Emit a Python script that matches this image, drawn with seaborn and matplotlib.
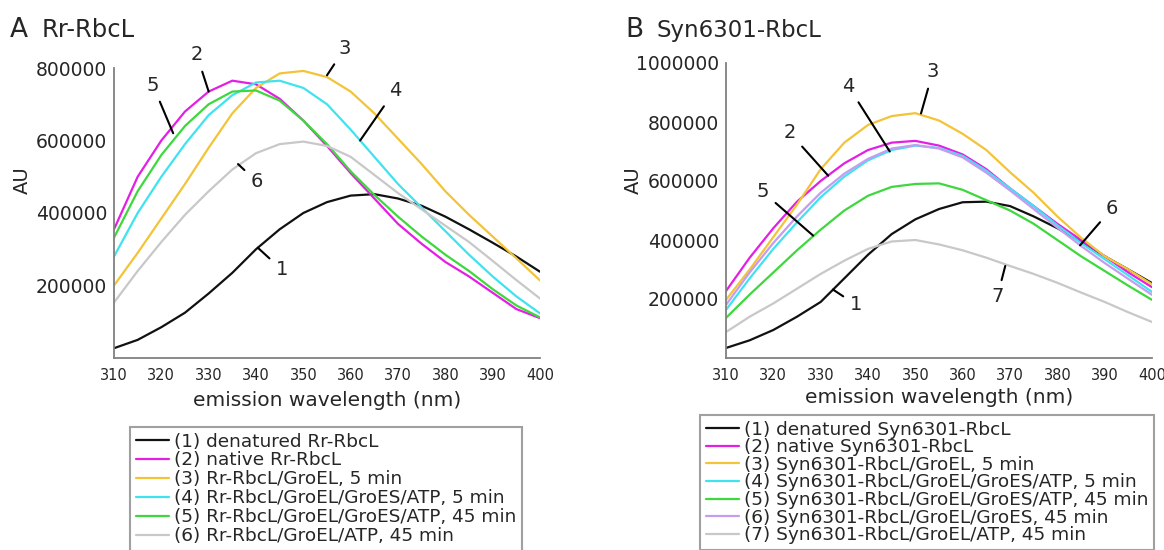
"""
    Tryptophan fluorescence emission spectra of RbcL refolding (two panels).
"""

import matplotlib.pyplot as plt
import pandas as pd
import seaborn as sns

#wavelengths read every 5 nm
wavelength = [310, 315, 320, 325, 330, 335, 340, 345, 350, 355,
              360, 365, 370, 375, 380, 385, 390, 395, 400]

#panel A, Rr-RbcL
a_denat = [27000, 50000, 85000, 125000, 178000, 235000, 300000, 355000, 400000, 430000,
           448000, 452000, 440000, 420000, 390000, 355000, 318000, 280000, 238000]
a_native = [355000, 500000, 600000, 680000, 735000, 765000, 755000, 715000, 655000, 585000,
            510000, 440000, 370000, 315000, 265000, 225000, 180000, 135000, 110000]
a_groel5 = [200000, 290000, 385000, 480000, 580000, 675000, 745000, 785000, 792000, 775000,
            735000, 675000, 605000, 535000, 460000, 395000, 335000, 275000, 214000]
a_groes5 = [280000, 400000, 500000, 590000, 670000, 725000, 760000, 765000, 745000, 700000,
            630000, 555000, 480000, 415000, 350000, 285000, 225000, 170000, 123000]
a_groes45 = [332000, 460000, 560000, 640000, 700000, 735000, 738000, 710000, 655000, 590000,
             515000, 450000, 390000, 335000, 285000, 240000, 190000, 145000, 112000]
a_atp45 = [153000, 240000, 320000, 395000, 460000, 520000, 565000, 590000, 597000, 585000,
           555000, 505000, 455000, 410000, 365000, 320000, 268000, 215000, 164000]

#panel B, Syn6301-RbcL
b_denat = [34000, 60000, 95000, 140000, 190000, 270000, 350000, 420000, 470000, 505000,
           528000, 530000, 515000, 480000, 440000, 395000, 345000, 300000, 254000]
b_native = [227000, 340000, 440000, 530000, 600000, 660000, 705000, 730000, 736000, 720000,
            690000, 640000, 575000, 515000, 455000, 400000, 345000, 290000, 240000]
b_groel5 = [197000, 300000, 410000, 520000, 640000, 730000, 790000, 820000, 830000, 805000,
            760000, 705000, 630000, 560000, 480000, 408000, 345000, 300000, 250000]
b_groes5 = [163000, 270000, 370000, 460000, 545000, 615000, 670000, 705000, 720000, 712000,
            685000, 635000, 575000, 515000, 450000, 390000, 335000, 280000, 224000]
b_groes45atp = [136000, 215000, 290000, 365000, 435000, 500000, 550000, 580000, 590000, 592000,
                570000, 535000, 500000, 455000, 400000, 345000, 295000, 245000, 197000]
b_groes45 = [180000, 290000, 390000, 480000, 560000, 625000, 675000, 710000, 722000, 710000,
             680000, 628000, 568000, 505000, 442000, 380000, 322000, 268000, 214000]
b_atp45 = [88000, 140000, 185000, 235000, 285000, 330000, 370000, 395000, 400000, 385000,
           365000, 340000, 312000, 285000, 255000, 222000, 190000, 155000, 122000]

labels_a = ['(1) denatured Rr-RbcL', '(2) native Rr-RbcL', '(3) Rr-RbcL/GroEL, 5 min',
            '(4) Rr-RbcL/GroEL/GroES/ATP, 5 min', '(5) Rr-RbcL/GroEL/GroES/ATP, 45 min',
            '(6) Rr-RbcL/GroEL/ATP, 45 min']
labels_b = ['(1) denatured Syn6301-RbcL', '(2) native Syn6301-RbcL',
            '(3) Syn6301-RbcL/GroEL, 5 min', '(4) Syn6301-RbcL/GroEL/GroES/ATP, 5 min',
            '(5) Syn6301-RbcL/GroEL/GroES/ATP, 45 min', '(6) Syn6301-RbcL/GroEL/GroES, 45 min',
            '(7) Syn6301-RbcL/GroEL/ATP, 45 min']

colors_a = ['#111111', '#e41fe4', '#f3c338', '#3fe3ef', '#3ed83e', '#c8c8c8']
colors_b = ['#111111', '#e41fe4', '#f3c338', '#3fe3ef', '#3ed83e', '#c49cf0', '#c8c8c8']

#number labels: (text, curve point x, curve point y, text x, text y)
notes_a = [('1', 340.4, 304000, 345.5, 243000), ('2', 330, 735000, 327.5, 836000),
           ('3', 355, 780000, 358.8, 855000), ('4', 362, 600000, 369.4, 739000),
           ('5', 322.5, 620000, 318.2, 753000), ('6', 336.2, 535000, 340.2, 486000)]
notes_b = [('1', 332.6, 232000, 337.5, 180000), ('2', 331.6, 618000, 323.5, 763000),
           ('3', 351.2, 829000, 353.7, 970000), ('4', 344.6, 700000, 335.8, 922000),
           ('5', 328.4, 415000, 317.8, 563000), ('6', 384.8, 382000, 391.6, 508000),
           ('7', 369, 312000, 367.3, 207000)]


def long_form(series, labels):
    frames = [pd.DataFrame({'nm': wavelength, 'AU': vals, 'sample': lab})
              for vals, lab in zip(series, labels)]
    return pd.concat(frames, ignore_index=True)


sns.set_style('white')
plt.rcParams['font.family'] = ['DejaVu Sans']

fig = plt.figure(figsize=(11.64, 5.5), dpi=100)
ax_a = fig.add_axes([114/1164, 192/550, 426/1164, 290/550])
ax_b = fig.add_axes([726/1164, 192/550, 426/1164, 295/550])

panels = [
    (ax_a, long_form([a_denat, a_native, a_groel5, a_groes5, a_groes45, a_atp45], labels_a),
     labels_a, colors_a, notes_a, 800000, (130/1164, 1 - 427/550), 0.05),
    (ax_b, long_form([b_denat, b_native, b_groel5, b_groes5, b_groes45atp, b_groes45, b_atp45], labels_b),
     labels_b, colors_b, notes_b, 1000000, (700/1164, 1 - 415/550), -0.02),
]

for ax, df, labels, colors, notes, ymax, leg_pos, lspace in panels:
    sns.lineplot(data=df, x='nm', y='AU', hue='sample', hue_order=labels,
                 palette=colors, linewidth=1.6, ax=ax)
    ax.set_xlim(310, 400)
    ax.set_ylim(0, ymax)
    ax.set_xticks(range(310, 401, 10))
    ax.set_yticks(range(200000, ymax + 1, 200000))
    ax.ticklabel_format(style='plain', axis='y')
    for side in ['top', 'right']:
        ax.spines[side].set_visible(False)
    for side in ['left', 'bottom']:
        ax.spines[side].set_color('#808080')
        ax.spines[side].set_linewidth(1.3)
    ax.tick_params(axis='y', direction='out', length=4, width=1.2, color='#808080',
                   labelsize=13.5, pad=1)
    ax.tick_params(axis='x', direction='in', length=4, width=1.2, color='#808080',
                   labelsize=10.5, pad=7)
    ax.set_xlabel('emission wavelength (nm)', fontsize=14.5, va='center')
    ax.set_ylabel('AU', fontsize=14, va='center')
    for txt, x, y, tx, ty in notes:
        ax.annotate(txt, xy=(x, y), xytext=(tx, ty), fontsize=14, ha='center', va='center',
                    arrowprops=dict(arrowstyle='-', color='black', lw=1.5, shrinkA=3, shrinkB=0))
    sns.move_legend(ax, 'upper left', bbox_to_anchor=leg_pos, bbox_transform=fig.transFigure,
                    title=None, frameon=True, fancybox=False, fontsize=13.3, borderaxespad=0,
                    handlelength=1.8, handletextpad=0.3, labelspacing=lspace, borderpad=0.3)
    leg = ax.get_legend()
    leg.get_frame().set_edgecolor('#888888')
    leg.get_frame().set_linewidth(1.5)

ax_a.xaxis.set_label_coords(0.5, -0.145)
ax_b.xaxis.set_label_coords(0.5, -0.133)
ax_a.yaxis.set_label_coords(-0.216, 0.614)
ax_b.yaxis.set_label_coords(-0.218, 0.603)

#panel titles
fig.text(10/1164, 1 - 30/550, 'A', fontsize=19, va='center')
fig.text(42/1164, 1 - 30/550, 'Rr-RbcL', fontsize=17.5, va='center')
fig.text(625/1164, 1 - 30/550, 'B', fontsize=19, va='center')
fig.text(657/1164, 1 - 30/550, 'Syn6301-RbcL', fontsize=16.5, va='center')

fig.savefig('out.png', dpi=100)
